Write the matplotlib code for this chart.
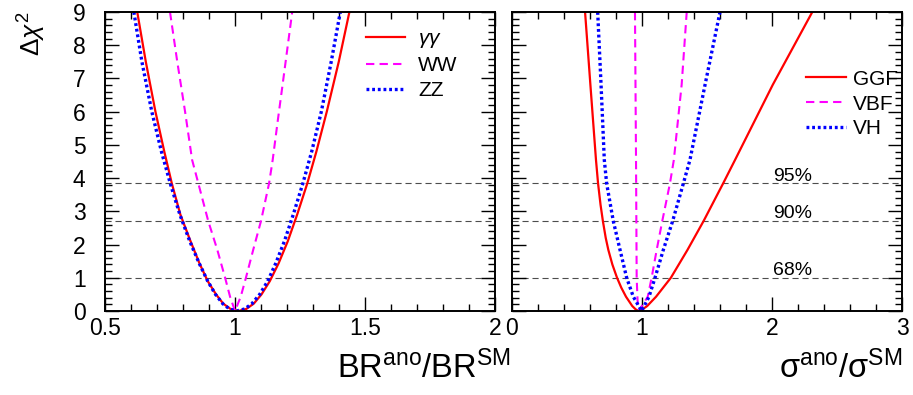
import matplotlib
matplotlib.use("Agg")
import matplotlib.pyplot as plt
from matplotlib.ticker import MultipleLocator, FormatStrFormatter

plt.rcParams['font.family'] = ['Liberation Sans', 'DejaVu Sans']
plt.rcParams['mathtext.fontset'] = 'custom'
plt.rcParams['mathtext.rm'] = 'Liberation Sans'
plt.rcParams['mathtext.it'] = 'Liberation Sans:italic'
plt.rcParams['mathtext.bf'] = 'Liberation Sans:bold'

# --- delta chi2 scans vs branching-ratio ratio ---
gg_x = [0.624, 0.657, 0.694, 0.728, 0.757, 0.790, 0.829, 0.863, 0.895, 0.927,
        0.955, 0.983, 1.013,
        1.043, 1.072, 1.102, 1.134, 1.168, 1.203, 1.239, 1.278, 1.313, 1.353,
        1.399, 1.440]
gg_y = [9.0, 7.5, 6.0, 4.8, 3.84, 2.9, 2.1, 1.44, 0.9, 0.5,
        0.22, 0.06, 0.0,
        0.06, 0.22, 0.5, 0.9, 1.44, 2.1, 2.9, 3.84, 4.8, 6.0,
        7.5, 9.0]

ww_x = [0.750, 0.778, 0.808, 0.835, 0.859, 0.897, 0.932, 0.962, 0.981, 1.000,
        1.022, 1.042, 1.070, 1.100, 1.131, 1.145, 1.164, 1.183, 1.220]
ww_y = [9.0, 7.5, 6.0, 4.55, 3.84, 2.71, 1.84, 1.0, 0.43, 0.0,
        0.43, 1.0, 1.84, 2.71, 3.84, 4.55, 5.7, 6.81, 9.0]

zz_x = [0.611, 0.642, 0.680, 0.717, 0.751, 0.788, 0.826, 0.862, 0.895, 0.925,
        0.953, 0.979, 1.006,
        1.037, 1.065, 1.095, 1.126, 1.157, 1.190, 1.224, 1.261, 1.295, 1.332,
        1.370, 1.405]
zz_y = [9.0, 7.5, 6.0, 4.8, 3.84, 2.9, 2.1, 1.44, 0.9, 0.5,
        0.22, 0.06, 0.0,
        0.06, 0.22, 0.5, 0.9, 1.44, 2.1, 2.9, 3.84, 4.8, 6.0,
        7.5, 9.0]

# --- delta chi2 scans vs production cross-section ratio ---
ggf_x = [0.562, 0.603, 0.646, 0.662, 0.681, 0.699, 0.721, 0.741, 0.772, 0.808,
         0.841, 0.877, 0.925, 0.951, 0.972,
         1.004, 1.040, 1.108, 1.222, 1.350, 1.474, 1.624, 1.716, 2.006, 2.310]
ggf_y = [9.0, 6.81, 4.55, 3.84, 3.2, 2.71, 2.2, 1.84, 1.4, 1.0,
         0.7, 0.43, 0.15, 0.05, 0.0,
         0.05, 0.15, 0.43, 1.0, 1.84, 2.71, 3.84, 4.55, 6.81, 9.0]

vbf_x = [0.946, 0.954, 0.959, 0.966, 0.975, 1.044, 1.074, 1.113, 1.156,
         1.215, 1.245, 1.305, 1.344]
vbf_y = [9.0, 4.55, 1.0, 0.3, 0.0, 0.43, 1.0, 1.84, 2.71,
         3.84, 4.55, 6.81, 9.0]

vh_x = [0.659, 0.685, 0.710, 0.728, 0.779, 0.831, 0.882, 0.933, 0.997,
        1.054, 1.100, 1.164, 1.236, 1.318, 1.369, 1.485, 1.600]
vh_y = [9.0, 6.81, 4.55, 3.84, 2.71, 1.84, 1.0, 0.43, 0.0,
        0.43, 1.0, 1.84, 2.71, 3.84, 4.55, 6.81, 9.0]

# confidence levels
cl_values = [1.0, 2.71, 3.84]
cl_labels = ["68%", "90%", "95%"]

RED, MAG, BLUE = '#ff0000', '#ff00ff', '#0000ff'
solid = dict(color=RED, lw=1.6)
dashed = dict(color=MAG, lw=1.5, dashes=(4, 2.5))
dotted = dict(color=BLUE, lw=2.4, dashes=(0.85, 0.85), dash_capstyle='butt')

fig = plt.figure(figsize=(9.13, 3.95), dpi=100)
ax1 = fig.add_axes([105 / 913, 1 - 311 / 395, 390 / 913, 299 / 395])
ax2 = fig.add_axes([512 / 913, 1 - 311 / 395, 390 / 913, 299 / 395])

for ax in (ax1, ax2):
    for v in cl_values:
        ax.axhline(v, color='0.3', lw=0.8, dashes=(5.5, 3.5), zorder=1)
    ax.set_ylim(0, 9)
    ax.yaxis.set_major_locator(MultipleLocator(1))
    ax.yaxis.set_minor_locator(MultipleLocator(0.2))
    ax.tick_params(which='both', direction='in', top=True, right=True,
                   width=1.0, labelsize=16.5)
    ax.tick_params(which='major', length=10)
    ax.tick_params(which='minor', length=5)
    ax.tick_params(axis='x', pad=4)
    ax.tick_params(axis='y', pad=14)
    for s in ax.spines.values():
        s.set_linewidth(1.4)

# left: branching ratios
l1, = ax1.plot(gg_x, gg_y, **solid, label=r'$\gamma\gamma$')
l2, = ax1.plot(ww_x, ww_y, **dashed, label='WW')
l3, = ax1.plot(zz_x, zz_y, **dotted, label='ZZ')
ax1.set_xlim(0.5, 2.0)
ax1.xaxis.set_major_locator(MultipleLocator(0.5))
ax1.xaxis.set_minor_locator(MultipleLocator(0.1))
ax1.xaxis.set_major_formatter(FormatStrFormatter('%g'))
ax1.set_xlabel(r'BR$^{\rm ano}$/BR$^{\rm SM}$', fontsize=23.5, loc='right')
ax1.xaxis.set_label_coords(1.04, -0.132)
ax1.set_ylabel('Δ$\\chi^{2}$', fontsize=19, loc='top')
ax1.yaxis.set_label_coords(-0.146, 1.0)
ax1.legend(handles=[l1, l2, l3], loc='upper left', bbox_to_anchor=(0.669, 0.942),
           frameon=False, fontsize=15, handlelength=1.9, handletextpad=0.6,
           labelspacing=0.28, borderpad=0, borderaxespad=0)

# right: production modes
r1, = ax2.plot(ggf_x, ggf_y, **solid, label='GGF')
r2, = ax2.plot(vbf_x, vbf_y, **dashed, label='VBF')
r3, = ax2.plot(vh_x, vh_y, **dotted, label='VH')
ax2.set_xlim(0, 3)
ax2.xaxis.set_major_locator(MultipleLocator(1))
ax2.xaxis.set_minor_locator(MultipleLocator(0.2))
ax2.xaxis.set_major_formatter(FormatStrFormatter('%g'))
ax2.tick_params(axis='y', labelleft=False)
ax2.set_xlabel(r'σ$^{\rm ano}$/σ$^{\rm SM}$', fontsize=23.5, loc='right')
ax2.xaxis.set_label_coords(1.0, -0.132)
ax2.legend(handles=[r1, r2, r3], loc='upper left', bbox_to_anchor=(0.754, 0.807),
           frameon=False, fontsize=15, handlelength=1.9, handletextpad=0.35,
           labelspacing=0.28, borderpad=0, borderaxespad=0)
for v, lab in zip(cl_values, cl_labels):
    ax2.text(2.16, v + 0.08, lab, fontsize=14, ha='center', va='baseline')

fig.savefig('out.png', dpi=100)
